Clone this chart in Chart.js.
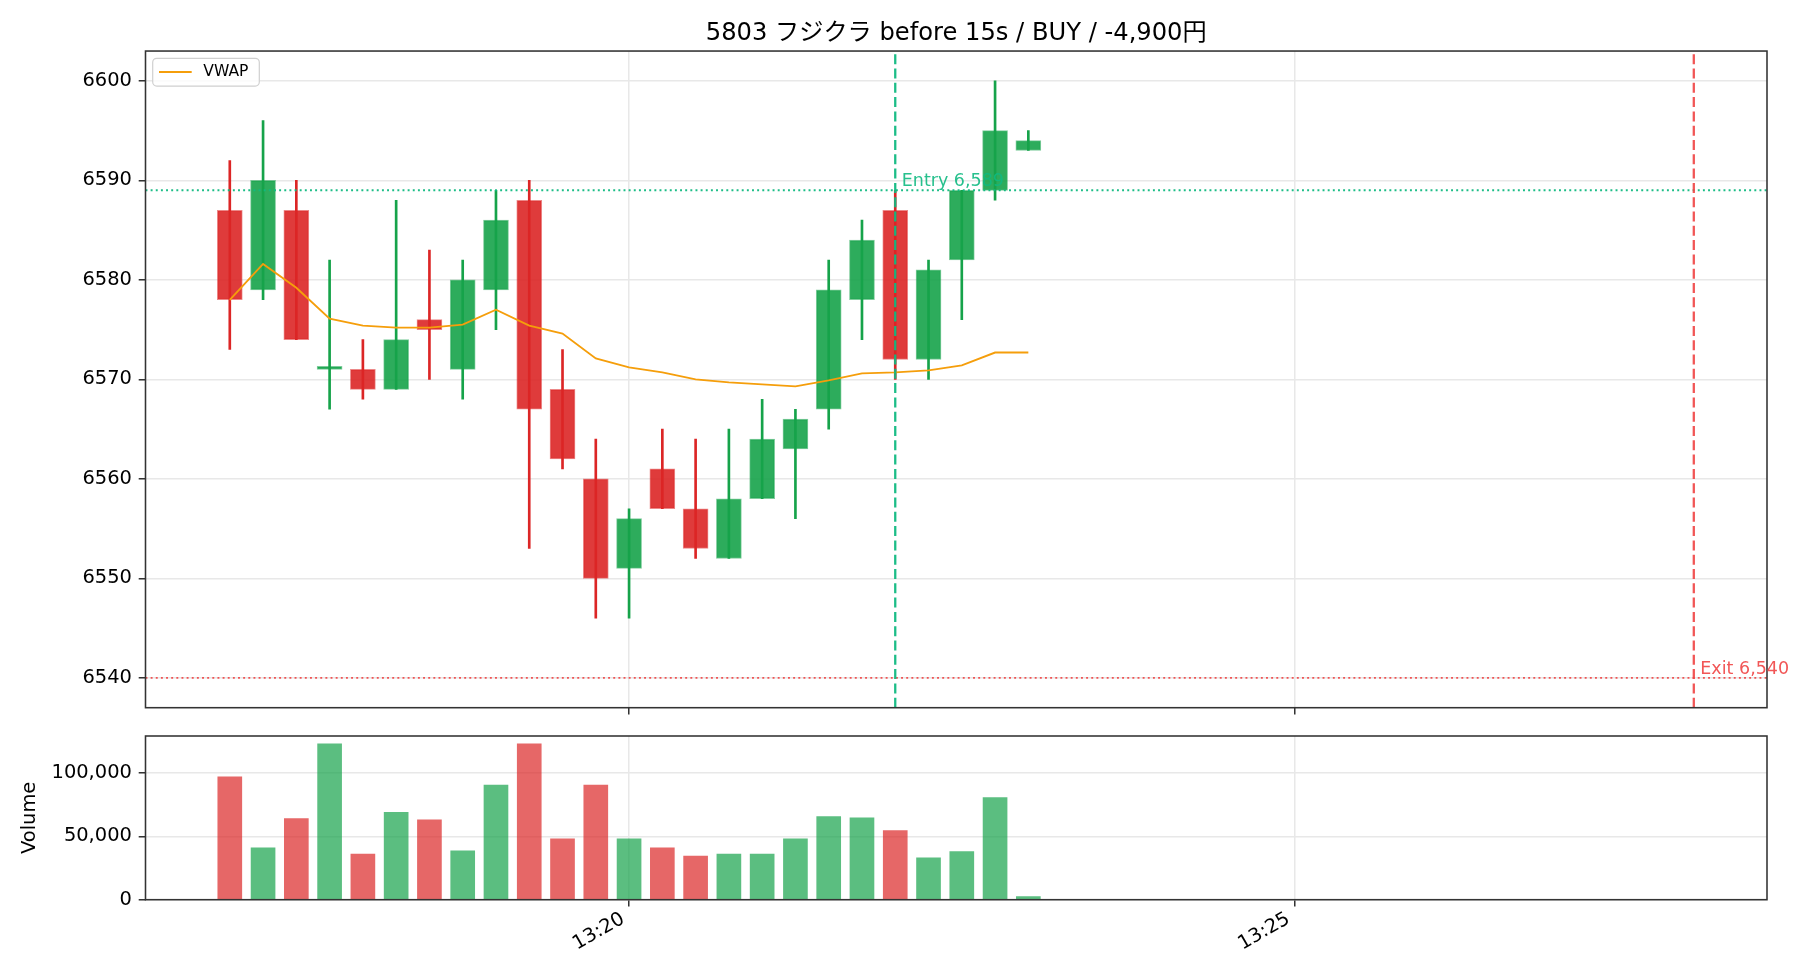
<!DOCTYPE html>
<html>
<head>
<meta charset="utf-8">
<script src="https://cdn.jsdelivr.net/npm/chart.js@4.4.1/dist/chart.umd.min.js"></script>
<style>
  html, body { margin: 0; padding: 0; background: #fff; }
  #wrap { position: relative; width: 1820px; height: 980px; }
  canvas { position: absolute; left: 0; }
  #priceChart { top: 0; }
  #volChart { top: 720px; }
</style>
</head>
<body>
<div id="wrap">
  <canvas id="priceChart" width="1820" height="720"></canvas>
  <canvas id="volChart" width="1820" height="260"></canvas>
</div>
<script>
const TITLE = '5803 フジクラ before 15s / BUY / -4,900円';

// 15s bars
const TIMES = [
  '13:17:00', '13:17:15', '13:17:30', '13:17:45', '13:18:00', '13:18:15', '13:18:30', '13:18:45',
  '13:19:00', '13:19:15', '13:19:30', '13:19:45', '13:20:00', '13:20:15', '13:20:30', '13:20:45',
  '13:21:00', '13:21:15', '13:21:30', '13:21:45', '13:22:00', '13:22:15', '13:22:30', '13:22:45',
  '13:23:00',
];
const OPEN  = [6587, 6579, 6587, 6571, 6571, 6569, 6576, 6571, 6579, 6588, 6569, 6560, 6551, 6561, 6557, 6552, 6558, 6563, 6567, 6578, 6587, 6572, 6582, 6589, 6593];
const HIGH  = [6592, 6596, 6590, 6582, 6574, 6588, 6583, 6582, 6589, 6590, 6573, 6564, 6557, 6565, 6564, 6565, 6568, 6567, 6582, 6586, 6589, 6582, 6589, 6600, 6595];
const LOW   = [6573, 6578, 6574, 6567, 6568, 6569, 6570, 6568, 6575, 6553, 6561, 6546, 6546, 6557, 6552, 6552, 6558, 6556, 6565, 6574, 6570, 6570, 6576, 6588, 6593];
const CLOSE = [6578, 6590, 6574, 6571, 6569, 6574, 6575, 6580, 6586, 6567, 6562, 6550, 6556, 6557, 6553, 6558, 6564, 6566, 6579, 6584, 6572, 6581, 6589, 6595, 6594];
const VOLUME = [97000, 41000, 64000, 123000, 36000, 69000, 63000, 38500, 90500, 123000, 48000, 90500, 48000, 41000, 34500, 36000, 36000, 48000, 65500, 64500, 54500, 33000, 38000, 80500, 2500];
const VWAP  = [6578.0, 6581.6, 6579.2, 6576.1, 6575.4, 6575.2, 6575.2, 6575.5, 6577.0, 6575.4, 6574.6, 6572.1, 6571.2, 6570.7, 6570.0, 6569.7, 6569.5, 6569.3, 6569.9, 6570.6, 6570.7, 6570.9, 6571.4, 6572.7, 6572.7];

const ENTRY_TIME = '13:22:00';
const ENTRY_PRICE = 6589;
const EXIT_TIME = '13:28:00';
const EXIT_PRICE = 6540;

const TIME_TICKS = ['13:20', '13:25'];
const TIME_RANGE = ['13:16:22', '13:28:33'];
const PRICE_TICKS = [6540, 6550, 6560, 6570, 6580, 6590, 6600];
const PRICE_RANGE = [6537, 6603];
const VOLUME_TICKS = [0, 50000, 100000];
const VOLUME_MAX = 129150;

const FONT = "'DejaVu Sans', 'Noto Sans CJK JP', sans-serif";
const GREEN = '22, 163, 74';
const RED = '220, 38, 38';
const ENTRY_C = '16, 185, 129';
const EXIT_C = '239, 68, 68';
const GRID = '#e8e8e8';
const SPINE = '#333';
const Y_AXIS_W = 145.5;

Chart.defaults.font.family = FONT;
Chart.defaults.color = '#000';
Chart.defaults.animation = false;

const rgba = (c, a) => `rgba(${c}, ${a})`;
const toSec = (t) => {
  const [h, m, s = 0] = t.split(':').map(Number);
  return h * 3600 + m * 60 + s;
};
const fmtTime = (v) => {
  const h = Math.floor(v / 3600);
  const m = Math.floor((v % 3600) / 60);
  return h + ':' + String(m).padStart(2, '0');
};

const xs = TIMES.map(toSec);
const up = OPEN.map((o, i) => CLOSE[i] >= o);
const X_MIN = toSec(TIME_RANGE[0]);
const X_MAX = toSec(TIME_RANGE[1]);
const entryX = toSec(ENTRY_TIME);
const exitX = toSec(EXIT_TIME);

function timeAxis(showLabels, height) {
  return {
    type: 'linear',
    min: X_MIN,
    max: X_MAX,
    offset: false,
    afterBuildTicks: (s) => { s.ticks = TIME_TICKS.map((t) => ({ value: toSec(t) })); },
    afterFit: (s) => { s.height = height; s.paddingLeft = 0; s.paddingRight = 0; },
    ticks: {
      autoSkip: false,
      minRotation: 30,
      maxRotation: 30,
      padding: 1,
      labelOffset: -6,
      font: { size: 19.44 },
      callback: (v) => (showLabels ? fmtTime(v) : ''),
    },
    grid: { color: GRID, lineWidth: 1.5, offset: false, tickColor: SPINE, tickLength: 6.8, tickWidth: 1.56 },
    border: { display: false },
  };
}

function fitY(s) {
  s.width = Y_AXIS_W;
  s.paddingTop = 0;
  s.paddingBottom = 0;
}

// frame + text overlays
const framePlugin = {
  id: 'frame',
  afterDatasetsDraw(chart) {
    const { ctx, chartArea: a } = chart;
    ctx.save();
    ctx.strokeStyle = SPINE;
    ctx.lineWidth = 1.56;
    ctx.strokeRect(a.left, a.top, a.right - a.left, a.bottom - a.top);
    ctx.restore();
  },
};

const overlayPlugin = {
  id: 'overlay',
  afterDatasetsDraw(chart) {
    const { ctx, chartArea: a, scales } = chart;
    const x = scales.x, y = scales.y;
    ctx.save();
    ctx.font = `17.5px ${FONT}`;
    ctx.textAlign = 'left';
    ctx.textBaseline = 'bottom';
    ctx.fillStyle = rgba(ENTRY_C, 0.9);
    ctx.fillText('Entry ' + ENTRY_PRICE.toLocaleString('en-US'), x.getPixelForValue(entryX) + 6.5, y.getPixelForValue(ENTRY_PRICE));
    ctx.fillStyle = rgba(EXIT_C, 0.9);
    ctx.fillText('Exit ' + EXIT_PRICE.toLocaleString('en-US'), x.getPixelForValue(exitX) + 6.5, y.getPixelForValue(EXIT_PRICE));

    // legend box, upper left
    const vw = chart.data.datasets.find((d) => d.label === 'VWAP');
    const bx = a.left + 7.2, by = a.top + 7.3;
    ctx.beginPath();
    ctx.roundRect(bx, by, 106.6, 27.7, 4);
    ctx.fillStyle = 'rgba(255,255,255,0.8)';
    ctx.fill();
    ctx.strokeStyle = '#d0d0d0';
    ctx.lineWidth = 1.2;
    ctx.stroke();
    ctx.beginPath();
    ctx.moveTo(bx + 6.3, by + 13.7);
    ctx.lineTo(bx + 39, by + 13.7);
    ctx.strokeStyle = vw.borderColor;
    ctx.lineWidth = vw.borderWidth;
    ctx.stroke();
    ctx.fillStyle = '#000';
    ctx.font = `15.55px ${FONT}`;
    ctx.textBaseline = 'middle';
    ctx.fillText(vw.label, bx + 50.6, by + 13.7);
    ctx.restore();
  },
};

const hLine = (price, color, label) => ({
  type: 'line',
  label,
  data: [{ x: X_MIN, y: price }, { x: X_MAX, y: price }],
  borderColor: color,
  borderWidth: 1.94,
  borderDash: [1.94, 3.2],
  pointRadius: 0,
  order: 2,
});
const vLine = (t, color, label) => ({
  type: 'line',
  label,
  data: [{ x: t, y: PRICE_RANGE[0] }, { x: t, y: PRICE_RANGE[1] }],
  borderColor: color,
  borderWidth: 2.3,
  borderDash: [10, 4.3],
  pointRadius: 0,
  order: 1,
});

new Chart(document.getElementById('priceChart'), {
  type: 'bar',
  data: {
    datasets: [
      {
        label: 'wick',
        data: xs.map((x, i) => ({ x, y: [LOW[i], HIGH[i]] })),
        backgroundColor: up.map((u) => rgba(u ? GREEN : RED, 1)),
        borderWidth: 0,
        barThickness: 2,
        grouped: false,
        order: 5,
      },
      {
        label: 'body',
        data: xs.map((x, i) => ({ x, y: [OPEN[i], CLOSE[i]] })),
        backgroundColor: up.map((u) => rgba(u ? GREEN : RED, 0.9)),
        borderColor: up.map((u) => rgba(u ? GREEN : RED, 0.55)),
        borderWidth: 1,
        borderSkipped: false,
        barThickness: 25,
        minBarLength: 3,
        grouped: false,
        order: 4,
      },
      {
        type: 'line',
        label: 'VWAP',
        data: xs.map((x, i) => ({ x, y: VWAP[i] })),
        borderColor: '#f59e0b',
        borderWidth: 1.9,
        pointRadius: 0,
        tension: 0,
        order: 3,
      },
      hLine(ENTRY_PRICE, rgba(ENTRY_C, 0.95), 'entryPrice'),
      hLine(EXIT_PRICE, rgba(EXIT_C, 0.9), 'exitPrice'),
      vLine(entryX, rgba(ENTRY_C, 0.95), 'entryTime'),
      vLine(exitX, rgba(EXIT_C, 0.9), 'exitTime'),
    ],
  },
  options: {
    responsive: false,
    devicePixelRatio: 1,
    layout: { padding: { left: 0, right: 53, top: 0, bottom: 0 } },
    scales: {
      x: timeAxis(false, 12.3),
      y: {
        min: PRICE_RANGE[0],
        max: PRICE_RANGE[1],
        afterBuildTicks: (s) => { s.ticks = PRICE_TICKS.map((v) => ({ value: v })); },
        afterFit: fitY,
        ticks: { padding: 6.8, font: { size: 19.44 }, callback: (v) => String(v) },
        grid: { color: GRID, lineWidth: 1.5, tickColor: SPINE, tickLength: 6.8, tickWidth: 1.56 },
        border: { display: false },
      },
    },
    plugins: {
      legend: { display: false },
      tooltip: { enabled: false },
      title: {
        display: true,
        text: TITLE,
        fullSize: false,
        color: '#000',
        font: { size: 24.2, weight: 'normal' },
        padding: { top: 19, bottom: 3 },
      },
    },
  },
  plugins: [framePlugin, overlayPlugin],
});

new Chart(document.getElementById('volChart'), {
  type: 'bar',
  data: {
    datasets: [
      {
        label: 'Volume',
        data: xs.map((x, i) => ({ x, y: VOLUME[i] })),
        backgroundColor: up.map((u) => rgba(u ? GREEN : RED, 0.7)),
        borderWidth: 0,
        barThickness: 24,
        grouped: false,
      },
    ],
  },
  options: {
    responsive: false,
    devicePixelRatio: 1,
    layout: { padding: { left: 0, right: 53, top: 16, bottom: 0 } },
    scales: {
      x: timeAxis(true, 80.3),
      y: {
        min: 0,
        max: VOLUME_MAX,
        afterBuildTicks: (s) => { s.ticks = VOLUME_TICKS.map((v) => ({ value: v })); },
        afterFit: fitY,
        title: { display: true, text: 'Volume', font: { size: 19.44 }, padding: { top: 18, bottom: 0 } },
        ticks: { padding: 6.8, font: { size: 19.44 }, callback: (v) => v.toLocaleString('en-US') },
        grid: { color: GRID, lineWidth: 1.5, tickColor: SPINE, tickLength: 6.8, tickWidth: 1.56 },
        border: { display: false },
      },
    },
    plugins: {
      legend: { display: false },
      tooltip: { enabled: false },
    },
  },
  plugins: [framePlugin],
});
</script>
</body>
</html>
